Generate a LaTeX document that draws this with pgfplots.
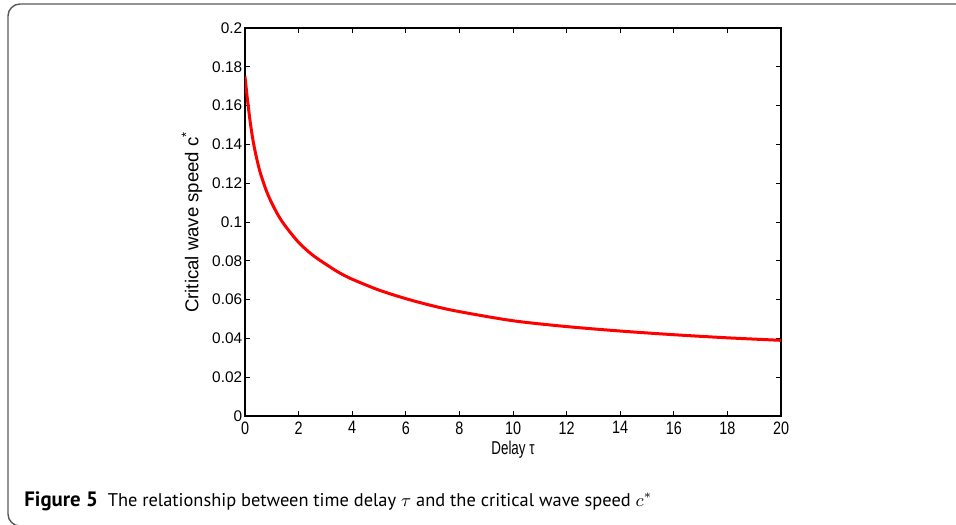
\documentclass[border=0pt]{standalone}
\usepackage{fontspec}
\setmainfont{Liberation Sans}
\newfontfamily\capfont{PT Sans}
\usepackage{pgfplots}
\pgfplotsset{compat=1.18}

\begin{document}
\begin{tikzpicture}[x=1pt,y=1pt]
\useasboundingbox (0,0) rectangle (478,262);
% frame of the figure box (cut by the page on the right and bottom)
\draw[black!65, line width=0.7pt, rounded corners=6pt] (490,260) -- (4,260) -- (4,-1) -- (490,-1);

\begin{axis}[
    at={(122.5pt,54pt)}, anchor=south west,
    scale only axis,
    width=268pt, height=194pt,
    xmin=0, xmax=20, ymin=0, ymax=0.2,
    xtick={0,2,...,20},
    ytick={0,0.02,0.04,0.06,0.08,0.1,0.12,0.14,0.16,0.18,0.2},
    scaled y ticks=false,
    /pgf/number format/assume math mode=true,
    yticklabel style={/pgf/number format/fixed, /pgf/number format/precision=2, font=\fontsize{7.7}{9}\selectfont, inner sep=1.2pt},
    xticklabel style={font=\fontsize{9}{10}\selectfont, xscale=0.8, inner sep=2.6pt},
    tick align=inside,
    major tick length=2.5pt,
    tick style={black, line width=0.5pt},
    axis line style={line width=0.65pt},
    xlabel={Delay τ},
    ylabel={Critical wave speed c\textsuperscript{*}},
    every axis x label/.style={at={(axis description cs:0.5,-0.087)}, anchor=center, font=\fontsize{9.3}{11}\selectfont, xscale=0.72},
    every axis y label/.style={at={(axis description cs:-0.099,0.5)}, rotate=90, anchor=center, font=\fontsize{9.3}{11}\selectfont},
]
\addplot[red, line width=1.5pt, smooth] coordinates {
    (0,0.1750) (0.1,0.1620) (0.2,0.1510) (0.3,0.1420) (0.4,0.1350)
    (0.5,0.1290) (0.6,0.1240) (0.8,0.1160) (1.0,0.1097) (1.25,0.1032)
    (1.5,0.0980) (2.0,0.0895) (2.5,0.0832) (3.0,0.0784) (3.5,0.0740)
    (4.0,0.0705) (5.0,0.0649) (6.0,0.0605) (7.0,0.0568) (8.0,0.0538)
    (10.0,0.0491) (12.0,0.0461) (14.0,0.0438) (16.0,0.0419) (18.0,0.0403)
    (20.0,0.0390)
};
\end{axis}

\node[anchor=base west, inner sep=0pt, font=\capfont\fontsize{9.2}{11}\selectfont] at (12,9)
    {{\fontsize{10.4}{11}\selectfont\bfseries Figure 5}\hspace{5pt}The relationship between time delay $\tau$ and the critical wave speed $c^{*}$};
\end{tikzpicture}
\end{document}
